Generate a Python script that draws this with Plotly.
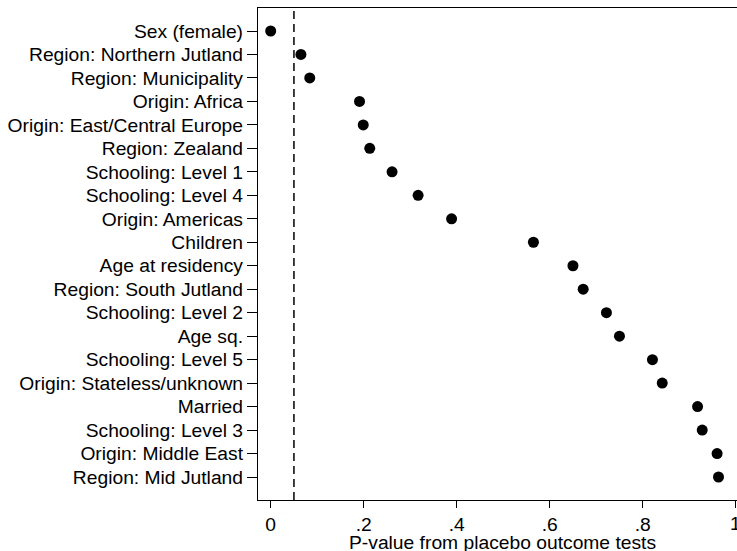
import plotly.graph_objects as go

labels = [
    "Sex (female)", "Region: Northern Jutland", "Region: Municipality",
    "Origin: Africa", "Origin: East/Central Europe", "Region: Zealand",
    "Schooling: Level 1", "Schooling: Level 4", "Origin: Americas",
    "Children", "Age at residency", "Region: South Jutland",
    "Schooling: Level 2", "Age sq.", "Schooling: Level 5",
    "Origin: Stateless/unknown", "Married", "Schooling: Level 3",
    "Origin: Middle East", "Region: Mid Jutland",
]
pvalues = [
    0.000, 0.065, 0.084, 0.191, 0.199, 0.213, 0.261, 0.317, 0.389, 0.565,
    0.650, 0.672, 0.722, 0.750, 0.821, 0.842, 0.918, 0.928, 0.960, 0.963,
]
x_tickvals = [0, 0.2, 0.4, 0.6, 0.8, 1]
x_ticktext = ["0", ".2", ".4", ".6", ".8", "1"]
threshold = 0.05
x_title = "P-value from placebo outcome tests"

positions = list(range(len(labels)))

FONT = "Liberation Sans, Arial, sans-serif"
FS = 19.25
W, H = 737, 551
ML, MR, MT, MB = 258, 0, 8, 51
PH = H - MT - MB

fig = go.Figure()
fig.add_trace(go.Scatter(
    x=pvalues, y=positions, mode="markers",
    marker=dict(color="black", size=11, line=dict(width=0)),
    showlegend=False, hoverinfo="x+text", text=labels,
))

fig.add_shape(type="line", xref="x", yref="paper", x0=threshold, x1=threshold,
              y0=0, y1=1, line=dict(color="black", width=1.5, dash="8px,5px"))

# last tick label (plotly hides it because it overflows the page edge)
annotations = [dict(
    text=x_ticktext[-1], xref="x", yref="paper", x=x_tickvals[-1],
    y=-(523.5 - (H - MB)) / PH, xanchor="center", yanchor="middle",
    showarrow=False, font=dict(size=FS, color="black", family=FONT),
)]
annotations.append(dict(
    text=x_title, xref="paper", yref="paper",
    x=(502 - ML) / (W - ML - MR), y=-(542.5 - (H - MB)) / PH,
    xanchor="center", yanchor="middle", showarrow=False,
    font=dict(size=FS, color="black", family=FONT),
))

fig.update_layout(
    width=W, height=H,
    margin=dict(l=ML, r=MR, t=MT, b=MB, pad=0),
    paper_bgcolor="white", plot_bgcolor="white",
    font=dict(family=FONT, size=FS, color="black"),
    xaxis=dict(
        range=[-0.0273, 1.0028], tickvals=x_tickvals, ticktext=x_ticktext,
        showgrid=False, zeroline=False, showline=True, linecolor="black",
        linewidth=1.3, mirror=True, ticks="outside", ticklen=7, tickwidth=1.2,
        tickcolor="black", tickfont=dict(size=FS),
    ),
    yaxis=dict(
        range=[len(labels) - 1 + 0.98, -0.98], tickvals=positions, ticktext=labels,
        showgrid=False, zeroline=False, showline=True, linecolor="black",
        linewidth=1.3, ticks="outside", ticklen=10, tickwidth=1.2,
        tickcolor="black", tickfont=dict(size=FS),
    ),
    annotations=annotations,
)

fig.write_html("out.html")
